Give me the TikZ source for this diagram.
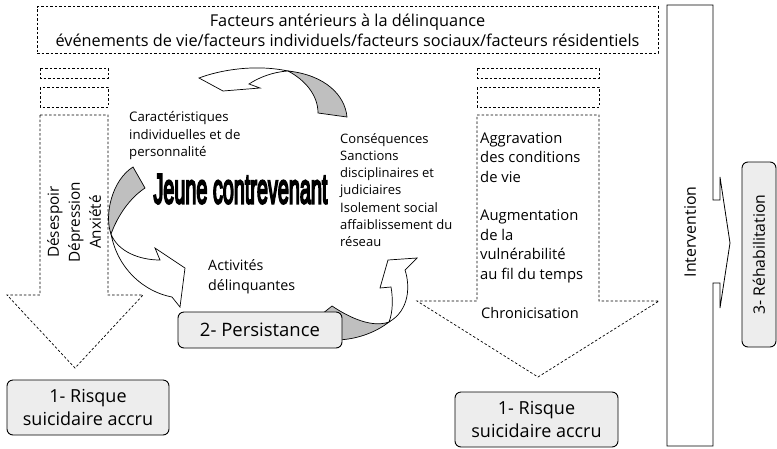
\documentclass[tikz,border=0pt]{standalone}
\usepackage{fontspec}
\usepackage{graphicx}
\setmainfont{Open Sans}
\newfontfamily\heavyfont[FakeBold=6]{Liberation Sans}
\definecolor{boxgray}{gray}{0.93}
\definecolor{arrowgray}{gray}{0.75}
\tikzset{
  dashedbox/.style={draw, dash pattern=on 2.5pt off 2pt, line width=0.7pt},
  stagebox/.style={draw, line width=0.9pt, rounded corners=6pt, fill=boxgray, align=center, inner sep=0pt, font=\fontsize{18}{23}\selectfont},
  loopback/.style={draw, line width=0.7pt, fill=arrowgray},
  loopfront/.style={draw, line width=0.7pt, fill=white},
  txt/.style={align=left, inner sep=0pt, anchor=west}
}
\begin{document}
\begin{tikzpicture}[x=1pt,y=-1pt]
  \useasboundingbox (0,0) rectangle (777,448);

  % factors above
  \node [dashedbox, minimum width=621pt, minimum height=47pt, align=center, inner sep=0pt, font=\fontsize{16.3}{20}\selectfont] (factors) at (347.5,30) {Facteurs antérieurs à la délinquance\\événements de vie/facteurs individuels/facteurs sociaux/facteurs résidentiels};

  % cycle around the young offender
  \draw [loopback] (288,71) .. controls (305,80) and (318,95) .. (318,113) -- (347,117) .. controls (345,95) and (325,75) .. (288,71) -- cycle;
  \draw [loopfront] (199,78) .. controls (220,70) and (255,64) .. (288,71) .. controls (272,72) and (258,78) .. (249,84) -- (260,88) -- (223,91) -- cycle;

  \draw [loopback] (133,167) .. controls (112,180) and (104,215) .. (111,234) .. controls (118,215) and (130,198) .. (145,188) -- cycle;
  \draw [loopfront] (111,234) .. controls (118,252) and (140,260) .. (160,260) -- (155,248) -- (185,268) -- (180,307) -- (172,297) .. controls (145,292) and (118,270) .. (111,234) -- cycle;

  \draw [loopback] (322,314) -- (332,306) .. controls (350,318) and (372,328) .. (389,322) .. controls (375,333) and (355,340) .. (335,340) -- cycle;
  \draw [loopfront] (389,322) .. controls (393,312) and (393,298) .. (391,287) -- (380,288) -- (388,260) -- (417,258) -- (405,270) .. controls (410,285) and (410,310) .. (389,322) -- cycle;

  % left column
  \draw [dashedbox] (40,68) rectangle (108,78);
  \draw [dashedbox] (40,87) rectangle (108,107);
  \draw [dashedbox] (40,115) -- (108,115) -- (108,295) -- (143,295) -- (75,368) -- (7,295) -- (40,295) -- cycle;

  % right column
  \draw [dashedbox] (477,68) rectangle (599,78);
  \draw [dashedbox] (477,87) rectangle (599,107);
  \draw [dashedbox] (477,115) -- (599,115) -- (599,301) -- (659,301) -- (538,377) -- (417,301) -- (477,301) -- cycle;

  % intervention
  \draw [line width=0.8pt] (667,5) -- (713,5) -- (713,200) -- (720,200) -- (720,177) -- (730,243) -- (720,308) -- (720,283) -- (713,283) -- (713,446) -- (667,446) -- cycle;

  \node [rotate=90, align=center, inner sep=0pt, font=\fontsize{15.3}{21}\selectfont] (moods) at (74,222) {Désespoir\\Dépression\\Anxiété};
  \node [txt, font=\fontsize{13.2}{17.5}\selectfont] (traits) at (129,136) {Caractéristiques\\individuelles et de\\personnalité};
  \node [txt, font=\fontsize{13}{17.2}\selectfont] (sanctions) at (340,190) {Conséquences\\Sanctions\\disciplinaires et\\judiciaires\\Isolement social\\affaiblissement du\\réseau};
  \node [txt, font=\fontsize{14.3}{20}\selectfont] (acts) at (208,277) {Activités\\délinquantes};
  \node (youth) at (240.5,189) {\resizebox{174pt}{29pt}{\heavyfont Jeune contrevenant}};
  \node [txt, font=\fontsize{14.8}{19.5}\selectfont, anchor=north west] (living) at (480,132) {Aggravation\\des conditions\\de vie\\[19pt]Augmentation\\de la\\vulnérabilité\\au fil du temps};
  \node [txt, font=\fontsize{14.6}{19.5}\selectfont] (chronic) at (481,313) {Chronicisation};
  \node [rotate=90, inner sep=0pt, font=\fontsize{15.9}{20}\selectfont] (interv) at (690,232) {Intervention};

  % stages
  \node [stagebox, minimum width=162pt, minimum height=55pt] (risk1) at (88,407.5) {1- Risque\\suicidaire accru};
  \node [stagebox, minimum width=163pt, minimum height=55pt] (risk2) at (536.5,419.5) {1- Risque\\suicidaire accru};
  \node [stagebox, minimum width=164pt, minimum height=36pt, font=\fontsize{18.5}{23}\selectfont] (persist) at (260,330) {2- Persistance};
  \node [stagebox, rotate=90, minimum width=185pt, minimum height=34pt, font=\fontsize{15.8}{20}\selectfont] (rehab) at (759,254.5) {3- Réhabilitation};
\end{tikzpicture}
\end{document}
